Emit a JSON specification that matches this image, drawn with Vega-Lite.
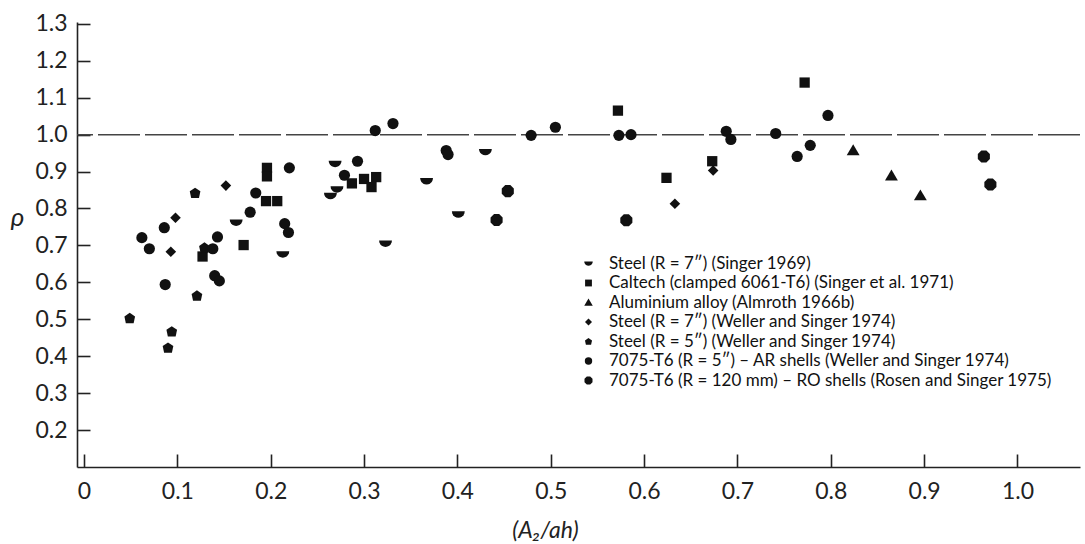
{
  "$schema": "https://vega.github.io/schema/vega-lite/v6.json",
  "width": 1003,
  "height": 445,
  "autosize": {"type": "none"},
  "padding": {"left": 77, "top": 22, "right": 5, "bottom": 77},
  "background": "white",
  "config": {
    "view": {"stroke": null},
    "font": "Lato",
    "axis": {"ticks": false, "grid": true, "gridColor": "#222", "gridWidth": 1.6, "gridOpacity": 1, "domainColor": "#222", "domainWidth": 1.6, "labelColor": "#222", "titleColor": "#222", "labelFont": "Lato", "titleFont": "Lato"}
  },
  "layer": [
    {
      "data": {"values": [{"ref": 1.0}]},
      "mark": {"type": "rule", "color": "#444", "strokeWidth": 1.5, "strokeDash": [42, 5]},
      "encoding": {
        "y": {"field": "ref", "type": "quantitative", "scale": {"domain": [0.1, 1.305], "nice": false, "zero": false}}
      }
    },
    {
      "data": {"values": [
        {"x": 0.163, "rho": 0.762, "series": "Steel (R = 7″) (Singer 1969)"},
        {"x": 0.213, "rho": 0.676, "series": "Steel (R = 7″) (Singer 1969)"},
        {"x": 0.269, "rho": 0.921, "series": "Steel (R = 7″) (Singer 1969)"},
        {"x": 0.271, "rho": 0.852, "series": "Steel (R = 7″) (Singer 1969)"},
        {"x": 0.264, "rho": 0.834, "series": "Steel (R = 7″) (Singer 1969)"},
        {"x": 0.323, "rho": 0.705, "series": "Steel (R = 7″) (Singer 1969)"},
        {"x": 0.367, "rho": 0.874, "series": "Steel (R = 7″) (Singer 1969)"},
        {"x": 0.401, "rho": 0.784, "series": "Steel (R = 7″) (Singer 1969)"},
        {"x": 0.430, "rho": 0.953, "series": "Steel (R = 7″) (Singer 1969)"},

        {"x": 0.196, "rho": 0.910, "series": "Caltech (clamped 6061-T6) (Singer et al. 1971)"},
        {"x": 0.196, "rho": 0.887, "series": "Caltech (clamped 6061-T6) (Singer et al. 1971)"},
        {"x": 0.195, "rho": 0.820, "series": "Caltech (clamped 6061-T6) (Singer et al. 1971)"},
        {"x": 0.207, "rho": 0.820, "series": "Caltech (clamped 6061-T6) (Singer et al. 1971)"},
        {"x": 0.171, "rho": 0.701, "series": "Caltech (clamped 6061-T6) (Singer et al. 1971)"},
        {"x": 0.127, "rho": 0.670, "series": "Caltech (clamped 6061-T6) (Singer et al. 1971)"},
        {"x": 0.287, "rho": 0.868, "series": "Caltech (clamped 6061-T6) (Singer et al. 1971)"},
        {"x": 0.300, "rho": 0.880, "series": "Caltech (clamped 6061-T6) (Singer et al. 1971)"},
        {"x": 0.313, "rho": 0.885, "series": "Caltech (clamped 6061-T6) (Singer et al. 1971)"},
        {"x": 0.308, "rho": 0.858, "series": "Caltech (clamped 6061-T6) (Singer et al. 1971)"},
        {"x": 0.572, "rho": 1.065, "series": "Caltech (clamped 6061-T6) (Singer et al. 1971)"},
        {"x": 0.624, "rho": 0.883, "series": "Caltech (clamped 6061-T6) (Singer et al. 1971)"},
        {"x": 0.673, "rho": 0.928, "series": "Caltech (clamped 6061-T6) (Singer et al. 1971)"},
        {"x": 0.772, "rho": 1.141, "series": "Caltech (clamped 6061-T6) (Singer et al. 1971)"},

        {"x": 0.824, "rho": 0.957, "series": "Aluminium alloy (Almroth 1966b)"},
        {"x": 0.865, "rho": 0.889, "series": "Aluminium alloy (Almroth 1966b)"},
        {"x": 0.896, "rho": 0.835, "series": "Aluminium alloy (Almroth 1966b)"},

        {"x": 0.152, "rho": 0.862, "series": "Steel (R = 7″) (Weller and Singer 1974)"},
        {"x": 0.098, "rho": 0.775, "series": "Steel (R = 7″) (Weller and Singer 1974)"},
        {"x": 0.093, "rho": 0.683, "series": "Steel (R = 7″) (Weller and Singer 1974)"},
        {"x": 0.633, "rho": 0.813, "series": "Steel (R = 7″) (Weller and Singer 1974)"},
        {"x": 0.674, "rho": 0.903, "series": "Steel (R = 7″) (Weller and Singer 1974)"},

        {"x": 0.119, "rho": 0.842, "series": "Steel (R = 5″) (Weller and Singer 1974)"},
        {"x": 0.129, "rho": 0.694, "series": "Steel (R = 5″) (Weller and Singer 1974)"},
        {"x": 0.121, "rho": 0.564, "series": "Steel (R = 5″) (Weller and Singer 1974)"},
        {"x": 0.049, "rho": 0.503, "series": "Steel (R = 5″) (Weller and Singer 1974)"},
        {"x": 0.094, "rho": 0.467, "series": "Steel (R = 5″) (Weller and Singer 1974)"},
        {"x": 0.090, "rho": 0.423, "series": "Steel (R = 5″) (Weller and Singer 1974)"},

        {"x": 0.062, "rho": 0.721, "series": "7075-T6 (R = 5″) – AR shells (Weller and Singer 1974)"},
        {"x": 0.070, "rho": 0.691, "series": "7075-T6 (R = 5″) – AR shells (Weller and Singer 1974)"},
        {"x": 0.086, "rho": 0.748, "series": "7075-T6 (R = 5″) – AR shells (Weller and Singer 1974)"},
        {"x": 0.087, "rho": 0.594, "series": "7075-T6 (R = 5″) – AR shells (Weller and Singer 1974)"},
        {"x": 0.138, "rho": 0.691, "series": "7075-T6 (R = 5″) – AR shells (Weller and Singer 1974)"},
        {"x": 0.143, "rho": 0.723, "series": "7075-T6 (R = 5″) – AR shells (Weller and Singer 1974)"},
        {"x": 0.140, "rho": 0.618, "series": "7075-T6 (R = 5″) – AR shells (Weller and Singer 1974)"},
        {"x": 0.145, "rho": 0.604, "series": "7075-T6 (R = 5″) – AR shells (Weller and Singer 1974)"},
        {"x": 0.178, "rho": 0.790, "series": "7075-T6 (R = 5″) – AR shells (Weller and Singer 1974)"},
        {"x": 0.184, "rho": 0.842, "series": "7075-T6 (R = 5″) – AR shells (Weller and Singer 1974)"},
        {"x": 0.220, "rho": 0.910, "series": "7075-T6 (R = 5″) – AR shells (Weller and Singer 1974)"},
        {"x": 0.215, "rho": 0.759, "series": "7075-T6 (R = 5″) – AR shells (Weller and Singer 1974)"},
        {"x": 0.219, "rho": 0.735, "series": "7075-T6 (R = 5″) – AR shells (Weller and Singer 1974)"},
        {"x": 0.279, "rho": 0.890, "series": "7075-T6 (R = 5″) – AR shells (Weller and Singer 1974)"},
        {"x": 0.293, "rho": 0.928, "series": "7075-T6 (R = 5″) – AR shells (Weller and Singer 1974)"},
        {"x": 0.312, "rho": 1.011, "series": "7075-T6 (R = 5″) – AR shells (Weller and Singer 1974)"},
        {"x": 0.331, "rho": 1.030, "series": "7075-T6 (R = 5″) – AR shells (Weller and Singer 1974)"},
        {"x": 0.388, "rho": 0.957, "series": "7075-T6 (R = 5″) – AR shells (Weller and Singer 1974)"},
        {"x": 0.390, "rho": 0.946, "series": "7075-T6 (R = 5″) – AR shells (Weller and Singer 1974)"},
        {"x": 0.479, "rho": 0.998, "series": "7075-T6 (R = 5″) – AR shells (Weller and Singer 1974)"},
        {"x": 0.505, "rho": 1.020, "series": "7075-T6 (R = 5″) – AR shells (Weller and Singer 1974)"},
        {"x": 0.573, "rho": 0.998, "series": "7075-T6 (R = 5″) – AR shells (Weller and Singer 1974)"},
        {"x": 0.586, "rho": 1.000, "series": "7075-T6 (R = 5″) – AR shells (Weller and Singer 1974)"},
        {"x": 0.688, "rho": 1.009, "series": "7075-T6 (R = 5″) – AR shells (Weller and Singer 1974)"},
        {"x": 0.693, "rho": 0.987, "series": "7075-T6 (R = 5″) – AR shells (Weller and Singer 1974)"},
        {"x": 0.741, "rho": 1.003, "series": "7075-T6 (R = 5″) – AR shells (Weller and Singer 1974)"},
        {"x": 0.797, "rho": 1.052, "series": "7075-T6 (R = 5″) – AR shells (Weller and Singer 1974)"},
        {"x": 0.764, "rho": 0.941, "series": "7075-T6 (R = 5″) – AR shells (Weller and Singer 1974)"},
        {"x": 0.778, "rho": 0.971, "series": "7075-T6 (R = 5″) – AR shells (Weller and Singer 1974)"},

        {"x": 0.442, "rho": 0.769, "series": "7075-T6 (R = 120 mm) – RO shells (Rosen and Singer 1975)"},
        {"x": 0.454, "rho": 0.847, "series": "7075-T6 (R = 120 mm) – RO shells (Rosen and Singer 1975)"},
        {"x": 0.581, "rho": 0.768, "series": "7075-T6 (R = 120 mm) – RO shells (Rosen and Singer 1975)"},
        {"x": 0.964, "rho": 0.941, "series": "7075-T6 (R = 120 mm) – RO shells (Rosen and Singer 1975)"},
        {"x": 0.971, "rho": 0.865, "series": "7075-T6 (R = 120 mm) – RO shells (Rosen and Singer 1975)"}
      ]},
      "mark": {"type": "point", "filled": true, "color": "#111", "opacity": 1, "size": 125},
      "encoding": {
        "x": {
          "field": "x", "type": "quantitative",
          "scale": {"domain": [-0.0075, 1.067], "nice": false, "zero": false},
          "axis": {
            "values": [0, 0.1, 0.2, 0.3, 0.4, 0.5, 0.6, 0.7, 0.8, 0.9, 1.0],
            "labelExpr": "datum.value == 0 ? '0' : format(datum.value, '.1f')",
            "gridDash": [13, 432], "gridDashOffset": 13,
            "labelPadding": 13, "labelFontSize": 23,
            "title": "(A₂/ah)", "titleFontSize": 23, "titleFontWeight": "normal", "titleFontStyle": "italic",
            "titleX": 468, "titleY": 70, "titleAnchor": "middle", "titleAlign": "center", "titleBaseline": "alphabetic"
          }
        },
        "y": {
          "field": "rho", "type": "quantitative",
          "scale": {"domain": [0.1, 1.305], "nice": false, "zero": false},
          "axis": {
            "values": [0.2, 0.3, 0.4, 0.5, 0.6, 0.7, 0.8, 0.9, 1.0, 1.1, 1.2, 1.3],
            "format": ".1f",
            "gridDash": [13, 990], "gridDashOffset": 0,
            "labelPadding": 10, "labelFontSize": 23,
            "title": "ρ", "titleFontSize": 26, "titleFontWeight": "normal", "titleFontStyle": "italic",
            "titleAngle": 0, "titleX": -60, "titleY": 195, "titleAlign": "center", "titleBaseline": "middle"
          }
        },
        "shape": {
          "field": "series", "type": "nominal",
          "scale": {
            "domain": [
              "Steel (R = 7″) (Singer 1969)",
              "Caltech (clamped 6061-T6) (Singer et al. 1971)",
              "Aluminium alloy (Almroth 1966b)",
              "Steel (R = 7″) (Weller and Singer 1974)",
              "Steel (R = 5″) (Weller and Singer 1974)",
              "7075-T6 (R = 5″) – AR shells (Weller and Singer 1974)",
              "7075-T6 (R = 120 mm) – RO shells (Rosen and Singer 1975)"
            ],
            "range": [
              "M -1.15 -0.55 L 1.15 -0.55 L 1.09 -0.19 L 0.93 0.13 L 0.68 0.38 L 0.36 0.54 L 0 0.6 L -0.36 0.54 L -0.68 0.38 L -0.93 0.13 L -1.09 -0.19 Z",
              "M -0.92 -0.92 L 0.92 -0.92 L 0.92 0.92 L -0.92 0.92 Z",
              "M 0 -1.1 L 1.15 0.85 L -1.15 0.85 Z",
              "M 0 -0.95 L 0.95 0 L 0 0.95 L -0.95 0 Z",
              "M 0 -0.95 L 0.95 -0.3 L 0.7 0.9 L -0.7 0.9 L -0.95 -0.3 Z",
              "circle",
              "M -0.45 -1.08 L 0.45 -1.08 L 1.08 -0.45 L 1.08 0.45 L 0.45 1.08 L -0.45 1.08 L -1.08 0.45 L -1.08 -0.45 Z"
            ]
          },
          "legend": {
            "orient": "none", "legendX": 503, "legendY": 233, "title": null,
            "labelFontSize": 17, "labelColor": "#111", "labelLimit": 600,
            "symbolSize": 55, "symbolFillColor": "#111", "symbolStrokeColor": "#111", "symbolStrokeWidth": 0,
            "rowPadding": 1.5, "labelOffset": 12, "padding": 0
          }
        }
      }
    }
  ]
}
